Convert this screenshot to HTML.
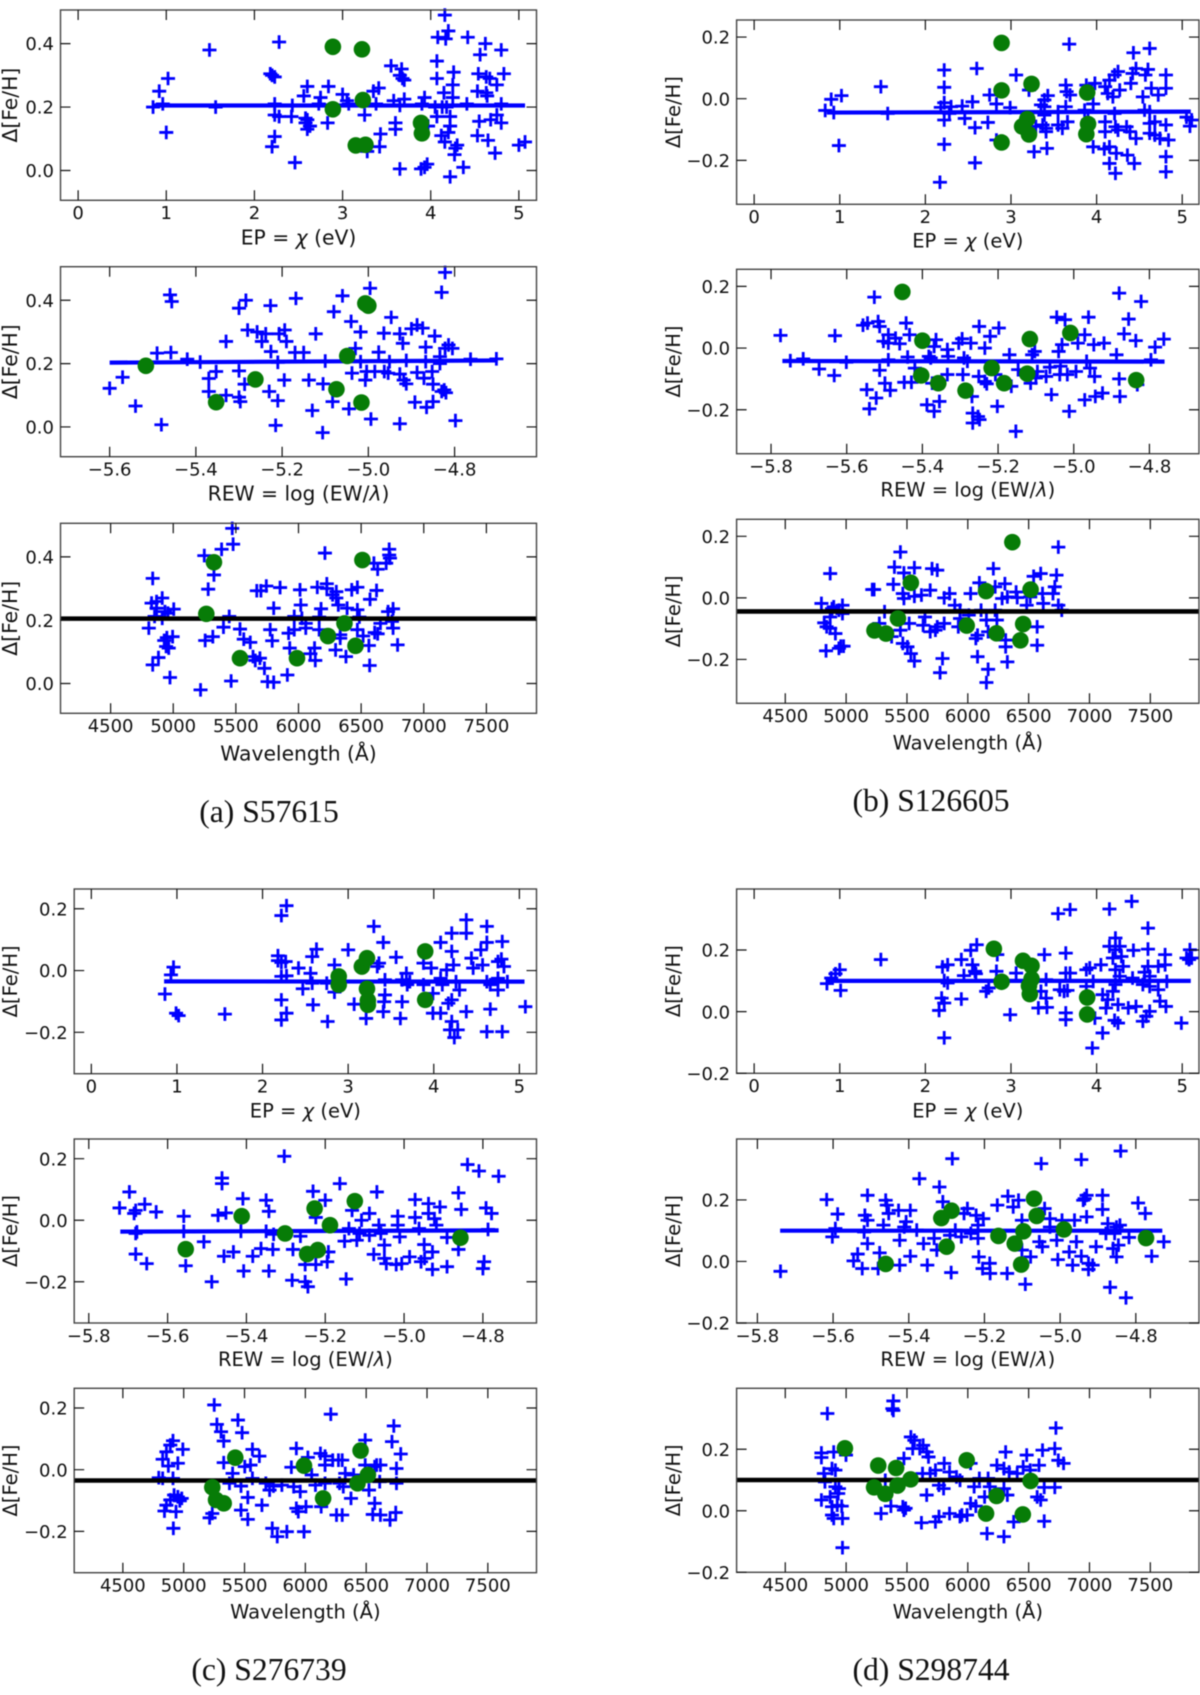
<!DOCTYPE html>
<html lang="en">
<head>
<meta charset="utf-8">
<title>Delta Fe/H diagnostic panels</title>
<style>
html,body{margin:0;padding:0;background:#fff;width:1200px;height:1695px;overflow:hidden}
svg{display:block;filter:blur(.45px)}
text{font-family:"DejaVu Sans","Liberation Sans",sans-serif;fill:#111}
.cap{font-family:"Liberation Serif","Times New Roman",serif;font-size:31.6px;fill:#111;text-anchor:middle}
</style>
</head>
<body>
<svg id="fig" xmlns="http://www.w3.org/2000/svg" width="1200" height="1695" viewBox="0 0 1200 1695">
<rect width="1200" height="1695" fill="#fff"/>
<text class="cap" x="269" y="822">(a) S57615</text>
<text class="cap" x="931" y="811">(b) S126605</text>
<text class="cap" x="269" y="1680">(c) S276739</text>
<text class="cap" x="931" y="1680">(d) S298744</text>
</svg>
<script>
// ---------- tick values ----------
const epTicks=[0,1,2,3,4,5];
const rewTicks=[-5.8,-5.6,-5.4,-5.2,-5.0,-4.8];
const rewTicksA=[-5.6,-5.4,-5.2,-5.0,-4.8];
const wlTicks=[4500,5000,5500,6000,6500,7000,7500];
const yTicksA=[0,0.2,0.4];
const yTicksBC=[-0.2,0,0.2];
const yTicksD=[-0.2,0,0.2];

// ---------- S57615 ----------
const a1BlueX=[.85,.92,.96,1.02,1.0,1.49,1.56,2.18,2.2,2.23,2.28,2.2,2.23,2.23,2.28,2.23,2.42,2.43,2.46,2.56,2.6,2.58,2.58,2.6,2.63,2.6,2.75,2.73,2.83,2.84,3.0,3.05,3.07,3.25,3.28,3.35,3.41,3.38,3.43,3.42,3.55,3.58,3.6,3.6,3.65,3.65,3.67,3.65,3.68,3.7,3.7,3.89,3.9,3.93,3.96,3.97,3.93,4.07,4.07,4.05,4.07,4.13,4.08,4.17,4.16,4.2,4.15,4.18,4.12,4.16,4.2,4.22,4.22,4.22,4.26,4.25,4.25,4.27,4.28,4.3,4.37,4.41,4.42,4.53,4.53,4.54,4.55,4.56,4.62,4.63,4.63,4.64,4.68,4.65,4.67,4.75,4.75,4.73,4.8,4.8,4.8,4.83,5.0,5.07];
const a1BlueY=[.2,.25,.21,.29,.12,.38,.2,.305,.3,.295,.405,.075,.107,.175,.17,.21,.17,.205,.025,.235,.265,.165,.15,.13,.14,.16,.23,.21,.15,.265,.24,.22,.21,.175,.06,.25,.26,.21,.115,.075,.33,.22,.15,.13,.005,.205,.32,.3,.29,.285,.225,.005,.21,.23,.02,.14,.01,.345,.29,.2,.17,.2,.42,.415,.49,.44,.245,.2,.11,.09,.12,.17,.14,-.02,.31,.27,.23,.05,.07,.08,.01,.21,.42,.25,.11,.305,.155,.365,.4,.295,.245,.235,.16,.095,.29,.27,.175,.055,.38,.15,.21,.305,.08,.09];
const a1GreenX=[2.89,3.22,2.89,3.23,3.15,3.26,3.89,3.9];
const a1GreenY=[.39,.382,.193,.222,.079,.081,.15,.117];
const a1LineX=[.85,5.07];
const a1LineY=[.205,.205];

const a2BlueX=[-5.6,-5.57,-5.54,-5.48,-5.49,-5.46,-5.456,-5.458,-5.42,-5.39,-5.37,-5.353,-5.37,-5.33,-5.33,-5.3,-5.3,-5.297,-5.3,-5.284,-5.28,-5.258,-5.287,-5.247,-5.238,-5.227,-5.226,-5.23,-5.215,-5.21,-5.21,-5.207,-5.194,-5.19,-5.195,-5.17,-5.168,-5.15,-5.138,-5.13,-5.122,-5.106,-5.105,-5.1,-5.08,-5.083,-5.06,-5.045,-5.04,-5.03,-5.038,-5.018,-5.018,-5.004,-5.007,-4.996,-4.994,-4.985,-4.976,-4.963,-4.964,-4.951,-4.954,-4.947,-4.927,-4.927,-4.927,-4.92,-4.918,-4.912,-4.912,-4.9,-4.892,-4.887,-4.887,-4.874,-4.871,-4.865,-4.867,-4.867,-4.85,-4.852,-4.846,-4.85,-4.83,-4.824,-4.82,-4.83,-4.822,-4.834,-4.834,-4.822,-4.814,-4.805,-4.798,-4.763,-4.703];
const a2BlueY=[.122,.157,.066,.007,.233,.417,.396,.235,.214,.205,.153,.175,.112,.27,.1,.177,.094,.08,.375,.4,.306,.3,.135,.27,.294,.383,.238,.112,.005,.204,.083,.294,.306,.27,.148,.235,.406,.235,.148,.052,.294,-.018,.136,.208,.364,.08,.414,.057,.333,.248,.17,.3,.206,.175,.148,.438,.025,.175,.236,.175,.296,.206,.17,.346,.01,.294,.167,.264,.148,.136,.21,.31,.078,.322,.172,.312,.154,.062,.252,.206,.08,.175,.287,.135,.112,.117,.108,.425,.488,.222,.2,.248,.259,.248,.02,.214,.215];
const a2GreenX=[-5.516,-5.353,-5.262,-5.074,-5.049,-5.016,-5.007,-5.0];
const a2GreenY=[.193,.078,.15,.119,.224,.077,.39,.383];
const a2LineX=[-5.6,-4.7];
const a2LineY=[.203,.21];

const a3BlueX=[4836,4805,4836,4882,4827,4867,4912,4867,4851,4912,4958,5004,4928,4949,4995,4943,4964,4974,4934,5218,5248,5255,5279,5325,5316,5386,5401,5447,5462,5471,5478,5533,5563,5615,5637,5655,5692,5667,5700,5743,5728,5753,5802,5774,5790,5802,5853,5911,5921,5930,5966,5966,6012,6018,6027,6058,6058,6095,6128,6134,6150,6165,6180,6165,6211,6226,6226,6272,6302,6302,6318,6296,6333,6333,6379,6388,6425,6470,6470,6486,6470,6516,6562,6568,6571,6602,6632,6623,6608,6632,6654,6700,6715,6724,6724,6730,6755,6746,6755,6791];
const a3BlueY=[.332,.175,.059,.082,.254,.259,.27,.238,.212,.206,.222,.235,.136,.145,.148,.117,.112,.019,.227,-.02,.404,.136,.298,.343,.148,.424,.178,.212,.008,.49,.44,.172,.14,.13,.085,.073,.08,.293,.293,.308,.048,.006,.004,.17,.135,.238,.303,.027,.159,.112,.212,.17,.296,.248,.206,.19,.175,.094,.112,.073,.304,.17,.236,.21,.412,.315,.3,.28,.29,.27,.248,.106,.154,.143,.085,.238,.296,.304,.233,.21,.17,.15,.12,.057,.266,.38,.361,.294,.161,.157,.19,.38,.227,.424,.406,.396,.236,.196,.175,.122];
const a3GreenX=[5325,5264,5533,5988,6235,6367,6455,6510];
const a3GreenY=[.383,.22,.08,.08,.15,.19,.119,.39];
const a3LineX=[4100,7900];
const a3LineY=[.205,.205];

// ---------- S126605 ----------
const b1BlueX=[.83,.9,.93,1.02,.99,1.48,1.56,2.22,2.22,2.22,2.18,2.22,2.22,2.17,2.28,2.3,2.43,2.46,2.55,2.58,2.58,2.6,2.73,2.75,2.83,2.83,3.06,2.99,3.21,3.27,3.35,3.29,3.39,3.43,3.39,3.39,3.37,3.41,3.41,3.42,3.55,3.55,3.6,3.64,3.66,3.64,3.65,3.69,3.68,3.86,3.88,3.9,3.96,3.98,3.96,4.09,4.1,4.1,4.1,4.15,4.13,4.15,4.15,4.19,4.21,4.25,4.21,4.22,4.22,4.23,4.27,4.25,4.35,4.36,4.4,4.39,4.43,4.46,4.42,4.44,4.46,4.54,4.56,4.57,4.6,4.62,4.64,4.62,4.62,4.62,4.68,4.68,4.72,4.74,4.81,4.81,4.81,4.81,4.81,4.84,5.05,5.09,5.11];
const b1BlueY=[-.038,-.002,-.045,.01,-.152,.039,-.048,.093,.037,-.013,-.028,-.069,-.148,-.271,-.048,-.026,-.024,-.064,-.01,-.094,-.208,.098,-.077,.012,-.017,-.134,.077,-.029,.028,-.172,-.02,-.09,-.004,.01,-.026,-.053,-.085,-.096,-.107,-.161,-.042,-.085,-.096,-.026,-.075,.044,.023,.012,.177,-.037,.044,-.069,-.017,.05,-.156,-.163,.039,-.075,-.107,.06,.017,-.21,-.156,.006,.077,.088,-.048,-.091,-.242,-.177,.028,-.102,-.091,-.183,.05,-.107,.149,.098,.082,-.21,-.129,.006,-.037,.077,.095,.163,.034,-.042,-.08,-.112,-.075,-.118,.012,-.129,.077,.034,-.085,-.188,-.237,-.134,-.06,-.089,-.069];
const b1GreenX=[2.89,2.89,3.24,3.89,3.19,3.13,3.21,3.9,3.88,2.89];
const b1GreenY=[.181,.027,.048,.02,-.066,-.09,-.116,-.082,-.115,-.142];
const b1LineX=[.85,5.1];
const b1LineY=[-.045,-.042];

const b2BlueX=[-5.775,-5.749,-5.715,-5.673,-5.633,-5.631,-5.601,-5.557,-5.545,-5.547,-5.54,-5.527,-5.522,-5.513,-5.517,-5.513,-5.503,-5.499,-5.49,-5.49,-5.485,-5.471,-5.46,-5.49,-5.448,-5.443,-5.434,-5.429,-5.439,-5.42,-5.388,-5.383,-5.378,-5.369,-5.364,-5.369,-5.374,-5.355,-5.334,-5.334,-5.332,-5.304,-5.295,-5.293,-5.29,-5.281,-5.272,-5.269,-5.267,-5.267,-5.253,-5.249,-5.25,-5.251,-5.235,-5.235,-5.23,-5.221,-5.207,-5.202,-5.198,-5.165,-5.17,-5.153,-5.147,-5.11,-5.103,-5.114,-5.1,-5.096,-5.073,-5.063,-5.059,-5.045,-5.04,-5.037,-5.035,-5.023,-5.031,-5.017,-5.012,-4.989,-4.994,-4.971,-4.971,-4.961,-4.966,-4.957,-4.947,-4.945,-4.943,-4.924,-4.92,-4.887,-4.88,-4.878,-4.88,-4.867,-4.855,-4.836,-4.822,-4.832,-4.796,-4.785,-4.762];
const b2BlueY=[.041,-.041,-.035,-.068,-.089,.04,-.046,.074,.081,-.135,-.197,.165,-.162,-.072,.086,.07,.022,-.114,.043,-.038,-.137,.032,.014,.016,-.111,.081,.043,-.111,-.029,-.065,-.184,-.027,-.032,-.205,.027,.005,-.114,-.173,-.086,-.005,-.027,.016,.03,-.086,-.032,-.043,.016,-.157,-.211,-.243,-.222,-.232,.07,-.092,0,-.108,-.116,.038,-.086,-.189,.065,-.124,-.022,-.27,-.07,-.022,-.011,-.114,-.097,-.076,-.092,-.062,-.151,.1,-.011,-.086,-.059,.092,.011,-.086,-.205,.016,-.076,-.168,.043,.1,-.043,-.065,.011,-.092,-.157,-.146,.016,-.022,.178,-.157,-.1,.046,.094,.024,.151,-.119,-.038,.003,.029];
const b2GreenX=[-5.453,-5.4,-5.403,-5.358,-5.286,-5.217,-5.184,-5.123,-5.116,-5.009,-4.835];
const b2GreenY=[.182,.024,-.089,-.114,-.138,-.065,-.114,-.083,.029,.049,-.104];
const b2LineX=[-5.77,-4.76];
const b2LineY=[-.042,-.044];

const b3BlueX=[4797,4820,4840,4835,4869,4884,4869,4869,4898,4912,4941,4970,4970,4956,4979,4941,5215,5230,5273,5316,5388,5397,5374,5446,5446,5466,5475,5475,5466,5504,5518,5532,5561,5561,5561,5619,5648,5633,5691,5706,5691,5734,5749,5749,5806,5792,5772,5806,5850,5893,5922,5936,5936,6023,6008,6066,6080,6080,6109,6095,6153,6153,6167,6167,6210,6225,6225,6239,6282,6305,6311,6311,6325,6325,6397,6406,6484,6513,6541,6599,6570,6570,6614,6620,6700,6715,6729,6744,6744,6772];
const b3BlueY=[-.018,-.081,-.094,-.172,.079,-.035,-.062,-.099,-.029,-.116,-.04,-.024,-.051,-.157,-.157,-.164,.027,.027,-.083,-.045,.044,.1,-.126,.149,-.105,.014,.081,-.002,-.148,-.159,-.083,-.181,.098,.005,-.205,.009,-.062,-.089,.025,.095,-.11,-.105,.09,-.094,-.083,-.197,-.243,0,.014,-.024,-.094,-.04,-.067,.014,-.056,-.132,-.191,-.121,-.04,.049,-.072,-.275,-.232,-.11,.095,.036,-.04,-.072,-.002,.046,-.137,-.159,-.208,.003,.019,.001,-.024,.003,.07,.079,-.094,-.154,.014,-.018,.014,.036,.074,.165,-.024,-.04];
const b3GreenX=[5233,5328,5426,5532,5991,6150,6236,6366,6432,6455,6516];
const b3GreenY=[-.106,-.116,-.067,.049,-.09,.022,-.115,.181,-.138,-.085,.027];
const b3LineX=[4100,7900];
const b3LineY=[-.044,-.044];

// ---------- S276739 ----------
const c1BlueX=[.86,.93,.96,.99,1.02,1.56,2.22,2.28,2.18,2.18,2.22,2.27,2.22,2.28,2.22,2.28,2.22,2.42,2.47,2.56,2.58,2.63,2.58,2.59,2.75,2.76,2.84,2.84,3.0,3.07,3.21,3.3,3.36,3.34,3.41,3.43,3.43,3.42,3.41,3.56,3.61,3.63,3.68,3.63,3.69,3.72,3.88,3.88,3.97,3.99,3.99,4.08,4.08,4.1,4.08,4.15,4.17,4.21,4.21,4.23,4.21,4.21,4.19,4.28,4.24,4.26,4.3,4.38,4.38,4.38,4.44,4.46,4.55,4.57,4.62,4.62,4.62,4.62,4.66,4.66,4.75,4.79,4.75,4.75,4.8,4.82,4.8,4.86,5.07];
const c1BlueY=[-.076,-.014,.011,-.138,-.146,-.141,.178,.21,.048,.032,.026,.029,-.019,-.017,-.095,-.138,-.16,.008,-.059,-.009,.045,.069,-.041,-.111,-.041,-.165,.018,-.07,.067,-.109,-.155,.143,.024,.013,.091,-.03,-.079,-.101,-.133,.043,-.155,-.03,-.009,-.101,-.046,-.036,-.046,.024,.008,-.074,-.138,.091,-.025,-.046,-.138,.002,-.106,.121,.062,.018,-.095,-.165,-.192,-.192,-.217,-.036,-.063,.164,.121,-.133,.04,.008,.067,.018,.143,.091,-.036,-.198,-.125,-.046,.029,.037,-.025,-.063,.094,.013,-.198,-.036,-.117];
const c1GreenX=[2.89,2.89,3.16,3.22,3.22,3.23,3.23,3.9,3.9];
const c1GreenY=[-.019,-.046,.013,.04,-.059,-.097,-.111,.062,-.095];
const c1LineX=[.85,5.06];
const c1LineY=[-.035,-.036];

const c2BlueX=[-5.722,-5.697,-5.685,-5.681,-5.681,-5.678,-5.681,-5.653,-5.658,-5.629,-5.559,-5.559,-5.554,-5.508,-5.488,-5.472,-5.462,-5.462,-5.452,-5.457,-5.433,-5.414,-5.409,-5.407,-5.384,-5.363,-5.35,-5.343,-5.35,-5.331,-5.333,-5.343,-5.282,-5.284,-5.263,-5.251,-5.244,-5.251,-5.224,-5.231,-5.224,-5.2,-5.192,-5.195,-5.163,-5.147,-5.151,-5.14,-5.132,-5.12,-5.113,-5.108,-5.088,-5.088,-5.077,-5.069,-5.064,-5.059,-5.05,-5.05,-5.045,-5.02,-5.016,-5.016,-5.011,-5.006,-4.986,-4.972,-4.972,-4.962,-4.957,-4.949,-4.948,-4.938,-4.938,-4.923,-4.928,-4.928,-4.918,-4.909,-4.891,-4.891,-4.862,-4.855,-4.862,-4.839,-4.81,-4.8,-4.797,-4.792,-4.778,-4.787,-4.76,-5.304];
const c2BlueY=[.04,.092,.022,.032,-.043,-.038,-.11,-.141,.052,.027,.013,-.036,-.148,-.07,-.2,.016,.137,.119,.024,-.117,-.103,-.036,.07,-.165,-.117,-.092,.065,.029,-.036,-.046,-.095,-.165,-.095,-.195,-.052,-.2,-.216,-.144,.009,.094,-.144,.065,-.103,-.135,.119,-.191,-.068,-.027,.032,-.065,-.043,0,.022,-.049,-.111,.092,-.016,-.043,-.081,-.124,-.141,-.144,.013,-.016,-.054,-.141,-.119,.067,.009,-.027,-.135,-.079,-.124,.054,.022,.005,-.103,-.16,-.016,.043,-.151,-.056,.089,.035,-.095,.181,.16,-.157,-.135,.04,.022,-.03,.143,.208];
const c2GreenX=[-5.554,-5.412,-5.302,-5.246,-5.219,-5.227,-5.188,-5.125,-4.857];
const c2GreenY=[-.094,.013,-.043,-.11,-.097,.038,-.016,.062,-.057];
const c2LineX=[-5.72,-4.76];
const c2LineY=[-.037,-.033];

const c3BlueX=[4795,4827,4827,4858,4890,4912,4993,4952,4874,4912,4842,4858,4890,4921,4937,4952,4984,4968,4915,5213,5235,5251,5273,5307,5329,5329,5376,5402,5446,5480,5471,5471,5502,5527,5527,5549,5565,5565,5622,5643,5675,5706,5728,5738,5769,5807,5848,5885,5904,5926,5926,5942,5958,5989,6005,6021,6052,6083,6130,6124,6162,6162,6162,6209,6225,6256,6272,6281,6303,6303,6312,6328,6375,6397,6492,6492,6523,6570,6570,6586,6554,6617,6611,6617,6696,6712,6727,6749,6749,6743,6784];
const c3BlueY=[-.026,-.028,.034,.058,.08,.094,.066,.021,.012,-.028,-.134,-.115,-.098,-.082,-.136,-.088,-.093,-.101,-.19,-.156,-.142,.21,.147,.123,.093,.023,-.044,-.012,.161,.12,-.131,-.053,.01,-.161,-.09,.015,.066,-.028,.044,-.115,-.044,-.066,-.19,-.053,-.217,-.05,-.201,.008,-.055,.069,-.125,-.136,-.071,-.201,-.12,.04,-.017,-.05,-.12,.053,.044,.015,-.044,.18,.031,-.147,.031,-.044,.031,-.147,-.055,-.012,-.093,-.017,.096,.015,-.066,-.109,.01,.015,-.145,.015,-.039,-.147,-.163,.091,.142,.004,-.044,-.139,.051];
const c3GreenX=[5235,5266,5329,5424,5989,6146,6429,6454,6514];
const c3GreenY=[-.057,-.098,-.109,.039,.013,-.093,-.044,.062,-.017];
const c3LineX=[4100,7900];
const c3LineY=[-.035,-.035];

// ---------- S298744 ----------
const d1BlueX=[.85,.9,.95,1.0,1.01,1.48,2.2,2.26,2.22,2.26,2.19,2.22,2.16,2.22,2.42,2.45,2.42,2.53,2.6,2.55,2.58,2.59,2.71,2.74,2.84,2.83,2.99,3.06,3.32,3.35,3.39,3.41,3.41,3.42,3.55,3.57,3.69,3.64,3.64,3.66,3.64,3.64,3.69,3.62,3.88,3.92,3.88,3.95,3.96,3.98,4.07,4.05,4.07,4.11,4.15,4.15,4.13,4.19,4.19,4.21,4.22,4.22,4.22,4.22,4.25,4.25,4.27,4.29,4.31,4.27,4.37,4.41,4.43,4.42,4.46,4.54,4.56,4.54,4.6,4.6,4.6,4.62,4.62,4.62,4.58,4.72,4.72,4.74,4.8,4.8,4.81,4.82,4.99,5.05,5.09,5.08,5.11];
const d1BlueY=[.091,.109,.123,.136,.069,.169,.145,.152,.101,.093,.044,.028,.004,-.085,.169,.117,.041,.199,.217,.152,.131,.123,.066,.077,.185,.131,-.01,.125,.012,.066,.185,.104,.044,.014,.318,.071,.331,.19,.125,.069,-.004,-.026,.125,.066,.136,.142,.082,-.118,.098,-.021,-.069,.152,.055,.012,.333,.212,.039,.066,.174,-.028,.239,.201,.136,.088,-.037,.023,.212,.179,.147,.115,.012,.358,.199,.109,.017,.088,.128,-.031,.203,.271,.147,.115,.082,.001,-.015,.147,.071,.034,.185,.152,.017,.098,-.037,.174,.201,.169,.174];
const d1GreenX=[2.8,2.89,3.14,3.24,3.24,3.21,3.22,3.89,3.89];
const d1GreenY=[.204,.097,.165,.149,.106,.084,.057,.046,-.009];
const d1LineX=[.85,5.1];
const d1LineY=[.1,.1];

const d2BlueX=[-5.739,-5.617,-5.594,-5.602,-5.588,-5.546,-5.535,-5.523,-5.516,-5.509,-5.509,-5.518,-5.509,-5.481,-5.477,-5.467,-5.461,-5.458,-5.453,-5.427,-5.424,-5.424,-5.412,-5.407,-5.396,-5.396,-5.379,-5.372,-5.361,-5.351,-5.333,-5.326,-5.319,-5.31,-5.291,-5.285,-5.288,-5.277,-5.261,-5.254,-5.245,-5.236,-5.222,-5.217,-5.217,-5.215,-5.203,-5.205,-5.186,-5.185,-5.166,-5.138,-5.14,-5.124,-5.11,-5.101,-5.101,-5.092,-5.078,-5.055,-5.047,-5.05,-5.041,-5.027,-5.027,-5.009,-5.006,-4.995,-4.976,-4.967,-4.957,-4.962,-4.944,-4.944,-4.939,-4.935,-4.93,-4.93,-4.925,-4.925,-4.914,-4.905,-4.888,-4.888,-4.874,-4.868,-4.879,-4.86,-4.856,-4.851,-4.851,-4.846,-4.842,-4.84,-4.826,-4.818,-4.794,-4.775,-4.758,-4.726];
const d2BlueY=[-.032,.201,.107,.08,.154,.002,.024,-.023,.15,.215,.134,.096,.058,-.023,.028,.118,.199,.183,.156,.166,-.012,.069,.112,.129,.166,.017,.102,.269,.058,-.012,.075,.037,.242,.194,.085,.334,-.036,.102,.08,.156,.172,.091,.15,.075,.118,.015,.139,-.023,-.006,-.039,.183,.212,-.039,.177,.199,.134,.037,-.074,.015,.064,.048,.318,.172,.139,.112,.069,.006,.134,.031,-.012,.064,.134,.331,.017,.199,.204,.215,.145,-.006,-.026,-.012,.048,.215,.169,.123,-.084,.091,.042,.091,.112,.015,.053,.118,.359,-.118,.078,.19,.156,.017,.064];
const d2GreenX=[-5.461,-5.314,-5.287,-5.3,-5.163,-5.12,-5.103,-5.097,-5.069,-5.062,-4.99,-4.773];
const d2GreenY=[-.008,.141,.165,.048,.083,.058,-.01,.098,.204,.148,.104,.076];
const d2LineX=[-5.74,-4.73];
const d2LineY=[.1,.1];

const d3BlueX=[4797,4797,4797,4817,4826,4846,4869,4884,4884,4884,4898,4912,4912,4898,4927,4935,4941,4964,4970,4970,4999,5287,5322,5368,5388,5380,5388,5475,5466,5475,5489,5532,5547,5561,5605,5633,5628,5619,5662,5677,5662,5691,5734,5734,5763,5763,5801,5806,5850,5850,5907,5936,5936,5951,5994,6023,6023,6052,6066,6095,6138,6158,6167,6181,6239,6297,6311,6297,6297,6325,6340,6377,6406,6484,6455,6513,6570,6599,6585,6614,6628,6628,6715,6715,6724,6744,6787];
const d3BlueY=[.188,.173,.035,.121,.094,.316,.045,.137,.013,-.014,.191,.132,.078,-.025,.018,.056,.072,.015,-.025,-.12,.181,-.009,.099,.015,.357,.332,.326,.17,.013,.002,.008,.24,.202,.229,.202,.213,.121,-.039,.191,.175,.051,.121,-.036,.132,-.019,.083,.072,.154,-.009,.126,.11,.099,-.019,-.014,-.014,.024,.154,.078,.015,.105,.045,-.074,.105,.078,.148,.137,.191,-.084,.072,.051,.126,-.036,.121,.181,.143,.132,.045,.035,.148,.197,.076,-.034,.202,.076,.269,.164,.154];
const d3GreenX=[4990,5264,5230,5322,5411,5423,5530,5991,6150,6236,6452,6516];
const d3GreenY=[.203,.147,.076,.055,.139,.082,.102,.164,-.009,.048,-.012,.097];
const d3LineX=[4100,7900];
const d3LineY=[.1,.1];

// ---------- axis label text ----------
const xLabelEp=['EP = ','χ',' (eV)'];
const xLabelRew=['REW = log (EW/','λ',')'];
const xLabelWl=['Wavelength (Å)'];

const svg=document.getElementById('fig');
const NS='http://www.w3.org/2000/svg';
function mk(tag,attrs,parent){
  const e=document.createElementNS(NS,tag);
  for(const k in attrs)e.setAttribute(k,attrs[k]);
  parent.appendChild(e);
  return e;
}
function fmtTick(v,dec){
  return (v<0?'\u2212':'')+Math.abs(v).toFixed(dec);
}
function drawPanel(cfg){
  const g=mk('g',{},svg);
  
  
  const L=cfg.box[0],R=cfg.box[1],T=cfg.box[2],B=cfg.box[3];
  const sx=v=>L+(v-cfg.xlim[0])/(cfg.xlim[1]-cfg.xlim[0])*(R-L);
  const sy=v=>B-(v-cfg.ylim[0])/(cfg.ylim[1]-cfg.ylim[0])*(B-T);

  // blue line measurements
  const n=Math.min(cfg.bx.length,cfg.by.length);
  for(let i=0;i<n;i++){
    const px=sx(cfg.bx[i]),py=sy(cfg.by[i]);
    const p=mk('path',{d:'M'+(px-7)+' '+py+'H'+(px+7)+'M'+px+' '+(py-6.8)+'V'+(py+6.8),stroke:'#0000ff','stroke-width':2.8,fill:'none'},g);
    
    
  }
  // fit line
  const fit=mk('line',{x1:sx(cfg.lx[0]),x2:sx(cfg.lx[1]),y1:sy(cfg.ly[0]),y2:sy(cfg.ly[1]),stroke:cfg.lineColor,'stroke-width':cfg.lineWidth},g);
  
  
  // green points
  const m=Math.min(cfg.gx.length,cfg.gy.length);
  for(let i=0;i<m;i++){
    const c=mk('circle',{cx:sx(cfg.gx[i]),cy:sy(cfg.gy[i]),r:8.3,fill:'#077c07'},g);
    
    
  }
  // frame
  const frame=mk('rect',{x:L,y:T,width:R-L,height:B-T,fill:'none',stroke:'#444','stroke-width':1.4},g);
  
  
  // x ticks
  cfg.xticks.forEach(v=>{
    const x=sx(v);
    const t=mk('path',{d:'M'+x+' '+B+'V'+(B-10)+'M'+x+' '+T+'V'+(T+10),stroke:'#111','stroke-width':1.2,fill:'none'},g);
    
    
    const lab=mk('text',{x:x,y:B+18.8,'text-anchor':'middle','font-size':18},g);
    lab.textContent=fmtTick(v,cfg.xdec);
    
    
  });
  // y ticks
  cfg.yticks.forEach(v=>{
    const y=sy(v);
    const t=mk('path',{d:'M'+L+' '+y+'H'+(L+10)+'M'+R+' '+y+'H'+(R-10),stroke:'#111','stroke-width':1.2,fill:'none'},g);
    
    
    const lab=mk('text',{x:L-6.5,y:y+6.6,'text-anchor':'end','font-size':18},g);
    lab.textContent=fmtTick(v,1);
    
    
  });
  // x label
  const xl=mk('text',{x:(L+R)/2,y:B+cfg.xlabOff,'text-anchor':'middle','font-size':cfg.labSize},g);
  cfg.xlabel.forEach((s,i)=>{
    const ts=mk('tspan',i===1?{'font-style':'italic'}:{},xl);
    ts.textContent=s;
  });
  
  
  // y label
  const yc=(T+B)/2;
  const yl=mk('text',{x:cfg.ylabX,y:yc,'text-anchor':'middle','font-size':cfg.labSize,transform:'rotate(-90 '+cfg.ylabX+' '+yc+')'},g);
  yl.textContent='\u0394[Fe/H]';
  
  
}

const boxXA=[60.5,536.5],boxXB=[736.6,1199],boxXC=[74.2,536.5];
const ylimA=[-.094,.506],ylimB=[-.3425,.2553],ylimC=[-.334,.264],ylimD=[-.2,.398];
const blue='#0000ff',black='#000';

drawPanel({id:'a-ep',box:[...boxXA,10,200.3],xlim:[-.2,5.2],ylim:ylimA,bx:a1BlueX,by:a1BlueY,gx:a1GreenX,gy:a1GreenY,lx:a1LineX,ly:a1LineY,lineColor:blue,lineWidth:4.2,xticks:epTicks,xdec:0,yticks:yTicksA,xlabel:xLabelEp,xlabOff:44,labSize:20.3,ylabX:17});
drawPanel({id:'a-rew',box:[...boxXA,266.7,456.7],xlim:[-5.714,-4.61],ylim:ylimA,bx:a2BlueX,by:a2BlueY,gx:a2GreenX,gy:a2GreenY,lx:a2LineX,ly:a2LineY,lineColor:blue,lineWidth:4.2,xticks:rewTicksA,xdec:1,yticks:yTicksA,xlabel:xLabelRew,xlabOff:44,labSize:20.3,ylabX:17});
drawPanel({id:'a-wavelength',box:[...boxXA,523.3,713.3],xlim:[4100,7900],ylim:ylimA,bx:a3BlueX,by:a3BlueY,gx:a3GreenX,gy:a3GreenY,lx:a3LineX,ly:a3LineY,lineColor:black,lineWidth:4.6,xticks:wlTicks,xdec:0,yticks:yTicksA,xlabel:xLabelWl,xlabOff:47.4,labSize:20.3,ylabX:17});

drawPanel({id:'b-ep',box:[...boxXB,20,204.3],xlim:[-.205,5.196],ylim:ylimB,bx:b1BlueX,by:b1BlueY,gx:b1GreenX,gy:b1GreenY,lx:b1LineX,ly:b1LineY,lineColor:blue,lineWidth:4.2,xticks:epTicks,xdec:0,yticks:yTicksBC,xlabel:xLabelEp,xlabOff:43,labSize:19.5,ylabX:680});
drawPanel({id:'b-rew',box:[...boxXB,269.3,453.7],xlim:[-5.891,-4.669],ylim:ylimB,bx:b2BlueX,by:b2BlueY,gx:b2GreenX,gy:b2GreenY,lx:b2LineX,ly:b2LineY,lineColor:blue,lineWidth:4.2,xticks:rewTicks,xdec:1,yticks:yTicksBC,xlabel:xLabelRew,xlabOff:42.6,labSize:19.5,ylabX:680});
drawPanel({id:'b-wavelength',box:[...boxXB,519.3,703.3],xlim:[4100,7900],ylim:ylimB,bx:b3BlueX,by:b3BlueY,gx:b3GreenX,gy:b3GreenY,lx:b3LineX,ly:b3LineY,lineColor:black,lineWidth:4.6,xticks:wlTicks,xdec:0,yticks:yTicksBC,xlabel:xLabelWl,xlabOff:46,labSize:19.5,ylabX:680});

drawPanel({id:'c-ep',box:[...boxXC,889,1073.7],xlim:[-.2,5.2],ylim:ylimC,bx:c1BlueX,by:c1BlueY,gx:c1GreenX,gy:c1GreenY,lx:c1LineX,ly:c1LineY,lineColor:blue,lineWidth:4.2,xticks:epTicks,xdec:0,yticks:yTicksBC,xlabel:xLabelEp,xlabOff:43.6,labSize:19.5,ylabX:17});
drawPanel({id:'c-rew',box:[...boxXC,1139,1323],xlim:[-5.837,-4.664],ylim:ylimC,bx:c2BlueX,by:c2BlueY,gx:c2GreenX,gy:c2GreenY,lx:c2LineX,ly:c2LineY,lineColor:blue,lineWidth:4.2,xticks:rewTicks,xdec:1,yticks:yTicksBC,xlabel:xLabelRew,xlabOff:43,labSize:19.5,ylabX:17});
drawPanel({id:'c-wavelength',box:[...boxXC,1388.3,1572.7],xlim:[4100,7900],ylim:ylimC,bx:c3BlueX,by:c3BlueY,gx:c3GreenX,gy:c3GreenY,lx:c3LineX,ly:c3LineY,lineColor:black,lineWidth:4.6,xticks:wlTicks,xdec:0,yticks:yTicksBC,xlabel:xLabelWl,xlabOff:45.6,labSize:19.5,ylabX:17});

drawPanel({id:'d-ep',box:[...boxXB,889,1073.3],xlim:[-.205,5.196],ylim:ylimD,bx:d1BlueX,by:d1BlueY,gx:d1GreenX,gy:d1GreenY,lx:d1LineX,ly:d1LineY,lineColor:blue,lineWidth:4.2,xticks:epTicks,xdec:0,yticks:yTicksD,xlabel:xLabelEp,xlabOff:44,labSize:19.5,ylabX:680});
drawPanel({id:'d-rew',box:[...boxXB,1139,1323],xlim:[-5.855,-4.633],ylim:ylimD,bx:d2BlueX,by:d2BlueY,gx:d2GreenX,gy:d2GreenY,lx:d2LineX,ly:d2LineY,lineColor:blue,lineWidth:4.2,xticks:rewTicks,xdec:1,yticks:yTicksD,xlabel:xLabelRew,xlabOff:43,labSize:19.5,ylabX:680});
drawPanel({id:'d-wavelength',box:[...boxXB,1388.3,1572.3],xlim:[4100,7900],ylim:ylimD,bx:d3BlueX,by:d3BlueY,gx:d3GreenX,gy:d3GreenY,lx:d3LineX,ly:d3LineY,lineColor:black,lineWidth:4.6,xticks:wlTicks,xdec:0,yticks:yTicksD,xlabel:xLabelWl,xlabOff:46,labSize:19.5,ylabX:680});
</script>
</body>
</html>
